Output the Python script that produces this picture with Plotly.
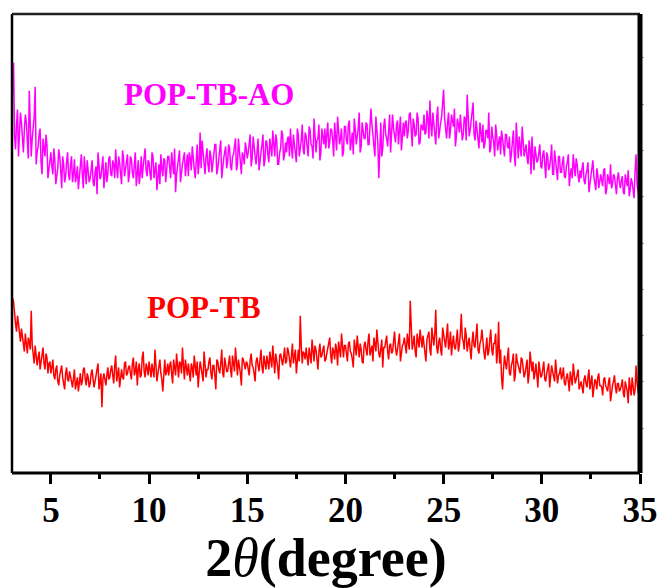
import numpy as np
import plotly.graph_objects as go

# 2theta grid: 3.00 .. 35.00 step 0.05
two_theta = [round(3.0 + 0.05 * i, 2) for i in range(641)]

# POP-TB-AO intensity (a.u.) at 3.0, 3.1, ... 35.0
pop_tb_ao_a = [
    360, 412, 325, 365, 335, 352, 322, 360, 330, 384,
    318, 345, 388, 322, 340, 312, 336, 318, 330, 305,
    322, 300, 315, 296, 325, 304, 318, 292, 312, 300,
    310, 292, 315, 298, 285, 312, 300, 318, 290, 305,
    296, 314, 288, 308, 322, 295, 306, 286, 312, 300,
    318, 298, 310, 325, 296, 312, 290, 316, 305, 320,
    300, 315, 296, 322, 306, 290, 318, 308, 326, 298,
    312, 294, 318, 304, 284, 310, 320, 298, 314, 302,
    318, 296, 312, 326, 300, 315, 292, 310, 322, 306,
    298, 316, 328, 306, 320, 300, 342, 334, 308, 318,
    310, 324, 302, 318, 330, 306, 322, 296, 316, 328,
    312, 326, 304, 320, 336, 310, 324, 300, 318, 332,
    316, 330, 308, 338, 318, 326, 304, 322, 340, 314,
    332, 312, 328, 344, 318, 334, 310, 326, 340, 320,
    322, 338, 346, 316, 332, 312, 340, 326, 350, 320,
    338, 318, 344, 328, 356, 322, 336, 314, 346, 330,
    326, 352, 332, 344, 318, 340, 358, 330, 346, 322,
    348, 330, 354, 336, 320, 346, 338, 362, 328, 344,
    336, 350, 330, 366, 340, 318, 346, 296, 352, 326,
    356, 336, 348, 322, 360, 340, 350, 330, 358, 342,
    338, 354, 344, 362, 328, 350, 340, 356, 332, 348,
    360, 342, 356, 374, 338, 352, 330, 368, 346, 358,
    385, 344, 352, 336, 360, 348, 328, 356, 342, 350,
    340, 356, 380, 338, 352, 372, 334, 346, 326, 344,
    350, 330, 344, 362, 326, 338, 318, 340, 332, 320,
    336, 318, 340, 326, 312, 334, 320, 352, 316, 330,
    348, 318, 330, 310, 326, 338, 304, 322, 314, 330,
    306, 324, 296, 318, 308, 330, 300, 312, 294, 318,
    302, 318, 296, 312, 288, 306, 320, 298, 310, 292,
    296, 312, 290, 304, 282, 300, 314, 292, 306, 286,
    300, 288, 306, 284, 296, 310, 290, 298, 280, 302,
    286, 298, 280, 294, 304, 284, 292, 276, 320, 282,
    270,
]
# POP-TB-AO at 3.05, 3.15, ... 34.95
pop_tb_ao_b = [
    395, 338, 350, 318, 362, 328, 345, 352, 316, 340,
    336, 358, 310, 328, 346, 300, 324, 340, 296, 318,
    308, 326, 290, 306, 318, 286, 310, 298, 322, 294,
    318, 300, 292, 308, 296, 320, 286, 300, 314, 292,
    308, 292, 302, 280, 310, 298, 318, 302, 292, 316,
    300, 314, 296, 306, 318, 300, 324, 298, 312, 292,
    318, 302, 310, 288, 314, 300, 296, 320, 304, 314,
    300, 322, 296, 312, 302, 290, 306, 316, 292, 318,
    304, 322, 300, 282, 310, 324, 304, 316, 298, 320,
    322, 304, 312, 296, 330, 312, 306, 322, 300, 326,
    302, 318, 312, 330, 300, 314, 334, 310, 322, 306,
    330, 308, 318, 328, 304, 336, 316, 322, 310, 326,
    322, 340, 316, 324, 310, 336, 318, 330, 308, 334,
    320, 336, 318, 330, 340, 310, 322, 344, 314, 332,
    336, 318, 328, 340, 322, 346, 318, 334, 324, 342,
    326, 348, 330, 316, 340, 334, 350, 322, 338, 346,
    340, 326, 346, 334, 352, 324, 342, 336, 318, 348,
    334, 350, 324, 342, 356, 330, 346, 322, 352, 336,
    352, 330, 344, 350, 326, 358, 332, 340, 318, 348,
    340, 328, 360, 336, 346, 332, 354, 344, 324, 352,
    352, 336, 360, 340, 356, 338, 362, 330, 350, 344,
    340, 364, 336, 350, 362, 344, 358, 336, 352, 370,
    356, 336, 362, 344, 352, 366, 338, 350, 360, 334,
    358, 334, 350, 344, 360, 340, 354, 336, 352, 332,
    326, 344, 336, 322, 348, 332, 350, 324, 338, 344,
    322, 340, 328, 338, 320, 344, 308, 330, 338, 318,
    336, 324, 316, 334, 300, 318, 328, 312, 322, 308,
    320, 310, 322, 304, 316, 300, 324, 306, 318, 302,
    312, 298, 308, 320, 300, 296, 308, 316, 298, 304,
    306, 294, 300, 312, 290, 306, 298, 284, 300, 292,
    294, 304, 280, 300, 290, 286, 300, 288, 296, 292,
    294, 282, 300, 288, 278, 296, 282, 304, 290, 276,
]

# POP-TB intensity (a.u.) at 3.0, 3.1, ... 35.0
pop_tb_a = [
    168, 172, 150, 158, 138, 145, 128, 140, 120, 132,
    163, 118, 128, 108, 122, 112, 126, 104, 116, 110,
    100, 114, 94, 108, 88, 102, 96, 84, 106, 92,
    98, 86, 104, 90, 82, 100, 92, 106, 88, 96,
    90, 104, 86, 98, 110, 92, 66, 100, 88, 106,
    96, 108, 90, 118, 98, 86, 104, 94, 112, 100,
    108, 94, 116, 102, 88, 110, 98, 122, 96, 106,
    112, 96, 104, 124, 92, 108, 100, 82, 114, 102,
    98, 112, 90, 106, 120, 96, 110, 126, 94, 104,
    110, 92, 106, 118, 98, 86, 112, 100, 122, 96,
    104, 116, 94, 108, 84, 112, 100, 124, 96, 110,
    102, 118, 96, 110, 126, 98, 108, 88, 114, 104,
    110, 98, 120, 106, 92, 116, 102, 124, 100, 112,
    118, 104, 112, 128, 100, 114, 94, 120, 108, 126,
    112, 122, 106, 130, 116, 100, 124, 158, 110, 120,
    126, 108, 120, 134, 112, 124, 104, 130, 118, 128,
    114, 126, 136, 110, 122, 130, 108, 124, 140, 116,
    128, 112, 132, 120, 106, 126, 138, 116, 124, 110,
    132, 118, 140, 124, 112, 130, 144, 120, 128, 106,
    126, 138, 114, 130, 122, 142, 118, 134, 112, 128,
    136, 120, 130, 173, 124, 138, 116, 132, 144, 126,
    130, 112, 138, 124, 146, 128, 164, 120, 136, 118,
    140, 126, 150, 130, 118, 138, 124, 144, 128, 160,
    132, 146, 122, 136, 114, 142, 126, 150, 120, 134,
    128, 114, 136, 122, 144, 118, 130, 110, 152, 124,
    84, 118, 104, 126, 98, 112, 92, 120, 106, 100,
    114, 96, 108, 90, 122, 102, 94, 110, 86, 104,
    98, 112, 92, 104, 86, 108, 96, 114, 90, 100,
    94, 106, 88, 100, 82, 96, 110, 90, 98, 84,
    92, 80, 98, 86, 104, 90, 76, 94, 84, 100,
    88, 78, 96, 84, 92, 72, 88, 98, 80, 90,
    84, 94, 76, 88, 70, 86, 96, 78, 108, 80,
    74,
]
# POP-TB at 3.05, 3.15, ... 34.95
pop_tb_b = [
    176, 158, 142, 150, 132, 138, 122, 130, 136, 124,
    128, 110, 120, 116, 104, 118, 110, 120, 100, 112,
    106, 98, 104, 92, 98, 108, 88, 100, 94, 102,
    92, 100, 84, 96, 92, 88, 104, 94, 100, 86,
    100, 94, 92, 104, 84, 100, 94, 92, 98, 94,
    104, 98, 108, 92, 106, 100, 96, 110, 98, 106,
    100, 110, 98, 112, 104, 96, 116, 102, 110, 98,
    104, 110, 96, 112, 100, 114, 94, 106, 98, 110,
    108, 100, 114, 98, 104, 112, 100, 108, 114, 98,
    100, 110, 96, 108, 112, 100, 106, 92, 108, 104,
    112, 100, 108, 98, 114, 104, 110, 100, 116, 102,
    110, 104, 118, 102, 108, 114, 100, 116, 106, 112,
    104, 114, 108, 100, 112, 108, 114, 106, 118, 104,
    110, 122, 106, 116, 120, 106, 118, 112, 116, 110,
    126, 114, 118, 110, 124, 116, 112, 128, 122, 114,
    116, 126, 110, 122, 128, 114, 122, 116, 124, 112,
    120, 130, 118, 126, 114, 124, 132, 116, 122, 128,
    120, 130, 122, 114, 134, 118, 126, 130, 112, 128,
    124, 132, 118, 128, 136, 122, 128, 116, 134, 126,
    132, 122, 128, 120, 132, 126, 124, 140, 122, 130,
    128, 140, 124, 148, 130, 122, 140, 126, 132, 138,
    126, 134, 142, 118, 134, 140, 126, 132, 124, 146,
    132, 138, 124, 142, 130, 126, 134, 122, 140, 136,
    124, 138, 130, 124, 132, 128, 138, 124, 130, 144,
    122, 130, 118, 134, 124, 130, 140, 122, 110, 96,
    104, 110, 116, 100, 108, 120, 98, 112, 104, 116,
    104, 100, 114, 98, 106, 112, 100, 98, 112, 96,
    104, 94, 100, 110, 96, 102, 92, 104, 98, 106,
    98, 90, 96, 92, 102, 88, 98, 94, 104, 90,
    86, 94, 90, 96, 84, 98, 88, 92, 96, 88,
    86, 94, 88, 82, 96, 84, 92, 86, 90, 82,
    88, 80, 92, 82, 96, 78, 88, 84, 90, 76,
]


def merge(a, b):
    out = []
    for i in range(len(b)):
        out.append(a[i])
        out.append(b[i])
    out.append(a[-1])
    return out


pop_tb_ao = merge(pop_tb_ao_a, pop_tb_ao_b)
pop_tb = merge(pop_tb_a, pop_tb_b)

series_names = ["POP-TB-AO", "POP-TB"]
series_colors = ["#FF00FF", "#FF0000"]
label_x = [13.1, 12.8]
label_y = [380, 166]

x_ticks = [5, 10, 15, 20, 25, 30, 35]

FONT = "Liberation Serif, Times New Roman, serif"

fig = go.Figure()
for name, ys, col in zip(series_names, [pop_tb_ao, pop_tb], series_colors):
    fig.add_trace(go.Scatter(x=two_theta, y=ys, mode="lines", name=name,
                             line=dict(color=col, width=1.5), showlegend=False))

for name, col, lx, ly in zip(series_names, series_colors, label_x, label_y):
    fig.add_annotation(x=lx, y=ly, text=name, showarrow=False,
                       font=dict(family=FONT, size=31, color=col, weight="bold"))

fig.update_layout(
    width=670, height=588,
    margin=dict(l=12, r=26, t=14, b=112),
    paper_bgcolor="white", plot_bgcolor="white",
    xaxis=dict(range=[3.02, 35], tickvals=x_ticks, ticks="outside", ticklen=10,
               tickwidth=3, tickcolor="black", showgrid=False, zeroline=False,
               showline=False, ticklabelstandoff=-4,
               minor=dict(dtick=2.5, tick0=0, ticks="outside", ticklen=5,
                          tickwidth=3, tickcolor="black", showgrid=False),
               tickfont=dict(family=FONT, size=35, color="black", weight="bold"),
               title=dict(text="<b>2</b><i>θ</i><b>(degree)</b>",
                          font=dict(family=FONT, size=54, color="black"),
                          standoff=8)),
    yaxis=dict(range=[0, 461], side="right", ticks="outside", ticklen=3,
               tick0=45, dtick=46.5, tickcolor="#999", tickwidth=1,
               showticklabels=False, showgrid=False, zeroline=False, showline=False),
)

# frame
fig.add_shape(type="line", xref="paper", yref="paper", x0=0, x1=0, y0=0, y1=1,
              line=dict(color="black", width=2.5))
fig.add_shape(type="line", xref="paper", yref="paper", x0=0, x1=1, y0=1, y1=1,
              line=dict(color="#222", width=2.5))
fig.add_shape(type="line", xref="paper", yref="paper", x0=0, x1=1, y0=0, y1=0,
              line=dict(color="black", width=3))
fig.add_shape(type="line", xref="paper", yref="paper", x0=1, x1=1, y0=0, y1=1,
              line=dict(color="black", width=5))

fig.write_html("out.html")
